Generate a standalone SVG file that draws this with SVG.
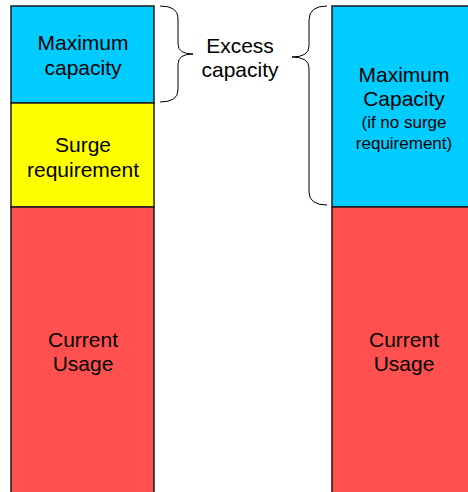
<svg xmlns="http://www.w3.org/2000/svg" width="468" height="492" viewBox="0 0 468 492">
<style>
.t{font-family:"Liberation Sans",Arial,sans-serif;font-size:21px;fill:#000;text-anchor:middle}
.s{font-size:17px}
.box{stroke:#1a1a1a;stroke-width:1.5}
.brace{fill:none;stroke:#000;stroke-width:1}
</style>
<rect width="468" height="492" fill="#fff"/>
<g id="left-max">
<rect class="box" x="11" y="6" width="143" height="97" fill="#00CCFF"/>
<text class="t" x="83" y="50">Maximum</text>
<text class="t" x="83" y="75">capacity</text>
</g>
<g id="left-surge">
<rect class="box" x="11" y="103" width="143" height="104" fill="#FFFF00"/>
<text class="t" x="83" y="152">Surge</text>
<text class="t" x="83" y="177">requirement</text>
</g>
<g id="left-current">
<rect class="box" x="11" y="207" width="143" height="290" fill="#FF5050"/>
<text class="t" x="83" y="347">Current</text>
<text class="t" x="83" y="371">Usage</text>
</g>
<g id="right-max">
<rect class="box" x="332" y="6" width="145" height="201" fill="#00CCFF"/>
<text class="t" x="404" y="82">Maximum</text>
<text class="t" x="404" y="106">Capacity</text>
<text class="t s" x="404" y="128">(if no surge</text>
<text class="t s" x="404" y="149">requirement)</text>
</g>
<g id="right-current">
<rect class="box" x="332" y="207" width="145" height="290" fill="#FF5050"/>
<text class="t" x="404" y="347">Current</text>
<text class="t" x="404" y="371">Usage</text>
</g>
<g id="excess">
<text class="t" x="240" y="53">Excess</text>
<text class="t" x="240" y="77">capacity</text>
</g>
<g id="connectors">
<path class="brace" d="M160,6 Q178,6 178,18 L178,44 Q178,54 193,54 Q178,54 178,64 L178,90 Q178,102 160,102"/>
<path class="brace" d="M327,6 Q309,6 309,20 L309,46 Q309,57 292,57 Q309,57 309,68 L309,192 Q309,205 327,205"/>
</g>
</svg>
